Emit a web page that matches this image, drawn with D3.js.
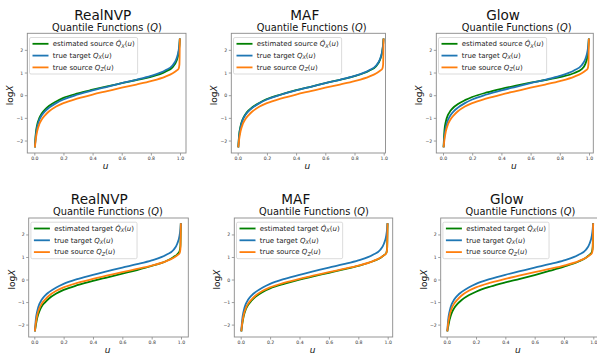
<!DOCTYPE html>
<html>
<head>
<meta charset="utf-8">
<script src="https://cdn.jsdelivr.net/npm/d3@7"></script>
<style>
  body { margin: 0; background: #fff; }
  svg { display: block; font-family: "DejaVu Sans", sans-serif; }
</style>
</head>
<body>
<div id="chart"></div>
<script>
// Quantile levels u
const uLevels = [0.004, 0.01, 0.02, 0.035, 0.05, 0.075, 0.1, 0.15, 0.2, 0.3, 0.4, 0.5, 0.6, 0.7, 0.8, 0.9, 0.95, 0.975, 0.99, 0.996, 0.999];

// True quantile functions (log X)
const trueTarget = [-2.3, -1.8, -1.4, -1.08, -0.9, -0.7, -0.56, -0.35, -0.19, 0.03, 0.21, 0.37, 0.53, 0.68, 0.85, 1.1, 1.32, 1.6, 1.95, 2.25, 2.5];
const trueSource = [-2.3, -1.95, -1.58, -1.27, -1.08, -0.88, -0.72, -0.5, -0.35, -0.14, 0.03, 0.18, 0.33, 0.47, 0.62, 0.82, 0.97, 1.08, 1.16, 1.35, 2.5];

// Estimated source (top row)
const estSourceRealNVP = [-2.3, -1.7, -1.3, -1.0, -0.82, -0.62, -0.48, -0.28, -0.12, 0.08, 0.24, 0.39, 0.53, 0.67, 0.81, 1.04, 1.24, 1.5, 1.85, 2.2, 2.5];
const estSourceMAF = [-2.3, -1.75, -1.36, -1.05, -0.87, -0.67, -0.53, -0.33, -0.17, 0.04, 0.22, 0.37, 0.53, 0.68, 0.84, 1.08, 1.29, 1.57, 1.92, 2.23, 2.5];
const estSourceGlow = [-2.3, -1.55, -1.15, -0.86, -0.7, -0.52, -0.4, -0.22, -0.08, 0.12, 0.28, 0.42, 0.55, 0.67, 0.8, 0.98, 1.15, 1.38, 1.75, 2.15, 2.5];

// Estimated target (bottom row)
const estTargetRealNVP = [-2.3, -2.05, -1.7, -1.4, -1.2, -1.0, -0.84, -0.62, -0.46, -0.24, -0.06, 0.1, 0.26, 0.42, 0.6, 0.82, 1.0, 1.12, 1.25, 1.5, 2.5];
const estTargetMAF = [-2.3, -2.0, -1.63, -1.32, -1.13, -0.93, -0.77, -0.55, -0.39, -0.18, 0.0, 0.15, 0.3, 0.45, 0.61, 0.81, 0.96, 1.08, 1.17, 1.38, 2.5];
const estTargetGlow = [-2.3, -2.1, -1.78, -1.47, -1.28, -1.07, -0.92, -0.7, -0.54, -0.31, -0.13, 0.03, 0.2, 0.38, 0.57, 0.8, 0.97, 1.1, 1.22, 1.45, 2.5];

const models = ['RealNVP', 'MAF', 'Glow'];
const xTicks = [0.0, 0.2, 0.4, 0.6, 0.8, 1.0];
const yTicks = [-2, -1, 0, 1, 2];

// Panel layout (pixels)
const layout = [
    { L: 27.3, R: 186, T: 33.3, B: 153, x0: 34.3, x1: 180, tX: 102.7, tY: 20, sX: 107, sY: 30.5 },
    { L: 231.3, R: 385.5, T: 33.3, B: 153, x0: 237.7, x1: 383.7, tX: 304.8, tY: 20, sX: 311.7, sY: 30.5 },
    { L: 436.3, R: 593.3, T: 33.3, B: 153, x0: 443, x1: 589, tX: 503, tY: 20, sX: 516.7, sY: 30.5 },
    { L: 28.7, R: 188.3, T: 218, B: 337, x0: 34.3, x1: 181, tX: 99.3, tY: 204, sX: 108, sY: 214.5 },
    { L: 234.3, R: 392.7, T: 218, B: 337, x0: 240.7, x1: 387.7, tX: 295.8, tY: 204, sX: 314, sY: 214.5 },
    { L: 440.7, R: 600, T: 218, B: 337, x0: 446.7, x1: 593.3, tX: 506.8, tY: 204, sX: 520.5, sY: 214.5 }
];

const colors = { est: '#008000', target: '#1f77b4', source: '#ff7f0e' };

const panels = [
    { model: models[0], est: estSourceRealNVP, estName: 'source' },
    { model: models[1], est: estSourceMAF, estName: 'source' },
    { model: models[2], est: estSourceGlow, estName: 'source' },
    { model: models[0], est: estTargetRealNVP, estName: 'target' },
    { model: models[1], est: estTargetMAF, estName: 'target' },
    { model: models[2], est: estTargetGlow, estName: 'target' }
];

const svg = d3.select('#chart').append('svg')
    .attr('width', 597)
    .attr('height', 356);

panels.forEach(function (p, i) {
    const lay = layout[i];
    const xScale = d3.scaleLinear().domain([0, 1]).range([lay.x0, lay.x1]);
    const yScale = d3.scaleLinear().domain([-2.55, 2.73]).range([lay.B, lay.T]);

    const g = svg.append('g');

    // Titles
    g.append('text')
        .attr('x', lay.tX).attr('y', lay.tY)
        .attr('text-anchor', 'middle')
        .style('font-size', '13.6px')
        .attr('fill', '#111')
        .text(p.model);

    const sub = g.append('text')
        .attr('x', lay.sX).attr('y', lay.sY)
        .attr('text-anchor', 'middle')
        .style('font-size', '9.8px')
        .attr('fill', '#111');
    sub.append('tspan').text('Quantile Functions (');
    sub.append('tspan').style('font-style', 'italic').text('Q');
    sub.append('tspan').text(')');

    // Axes
    const xAxis = d3.axisBottom(xScale).tickValues(xTicks).tickSize(2.5).tickPadding(1.5)
        .tickFormat(d3.format('.1f'));
    const yAxis = d3.axisLeft(yScale).tickValues(yTicks).tickSize(2.5).tickPadding(1.5)
        .tickFormat(d => d < 0 ? '\u2212' + Math.abs(d) : String(d));

    const xNode = g.append('g')
        .attr('transform', 'translate(0,' + lay.B + ')')
        .call(xAxis);
    const yNode = g.append('g')
        .attr('transform', 'translate(' + lay.L + ',0)')
        .call(yAxis);
    [xNode, yNode].forEach(function (n) {
        n.select('.domain').remove();
        n.selectAll('line').attr('stroke', '#777').attr('stroke-width', 0.7);
        n.selectAll('text').style('font-size', '4.6px').attr('fill', '#333')
            .style('font-family', '"DejaVu Sans", sans-serif');
    });

    // Axis labels
    g.append('text')
        .attr('x', (lay.L + Math.min(lay.R, 597)) / 2 - 1)
        .attr('y', lay.B + 15.5)
        .attr('text-anchor', 'middle')
        .style('font-size', '9px')
        .style('font-style', 'italic')
        .attr('fill', '#111')
        .text('u');

    const ylab = g.append('text')
        .attr('transform', 'translate(' + (lay.L - 14) + ',' + yScale(0) + ') rotate(-90)')
        .attr('text-anchor', 'middle')
        .style('font-size', '9px')
        .attr('fill', '#111');
    ylab.append('tspan').text('log');
    ylab.append('tspan').style('font-style', 'italic').text('X');

    // Lines
    const series = [
        { values: p.est, color: colors.est },
        { values: trueTarget, color: colors.target },
        { values: trueSource, color: colors.source }
    ];
    const lineFunction = d3.line()
        .curve(d3.curveMonotoneX)
        .x(d => xScale(d[0]))
        .y(d => yScale(d[1]));

    series.forEach(function (s) {
        g.append('path')
            .attr('d', lineFunction(uLevels.map((u, k) => [u, s.values[k]])))
            .attr('fill', 'none')
            .attr('stroke', s.color)
            .attr('stroke-width', 1.8);
    });

    // Frame
    g.append('rect')
        .attr('x', lay.L).attr('y', lay.T)
        .attr('width', lay.R - lay.L).attr('height', lay.B - lay.T)
        .attr('fill', 'none')
        .attr('stroke', '#8a8a8a')
        .attr('stroke-width', 0.9);

    // Legend
    const lx = lay.L + 2.2;
    const ly = lay.T + 4.2;
    const legend = g.append('g').attr('transform', 'translate(' + lx + ',' + ly + ')');
    const box = legend.append('rect')
        .attr('width', 103).attr('height', 36.5)
        .attr('rx', 1.5)
        .attr('fill', 'white').attr('fill-opacity', 0.85)
        .attr('stroke', '#cccccc').attr('stroke-width', 0.7);

    const items = [
        { color: colors.est, prefix: 'estimated ' + p.estName + ' ', hat: true, sub: 'X' },
        { color: colors.target, prefix: 'true target ', hat: false, sub: 'X' },
        { color: colors.source, prefix: 'true source ', hat: false, sub: 'Z' }
    ];
    let maxLen = 0;
    items.forEach(function (it, k) {
        const ry = 6.3 + k * 11.8;
        legend.append('line')
            .attr('x1', 3).attr('x2', 19)
            .attr('y1', ry).attr('y2', ry)
            .attr('stroke', it.color).attr('stroke-width', 1.8);
        const t = legend.append('text')
            .attr('x', 23.3).attr('y', ry + 2.4)
            .style('font-size', '7px')
            .attr('fill', '#222');
        t.append('tspan').text(it.prefix);
        t.append('tspan').style('font-style', 'italic').text(it.hat ? 'Q\u0302' : 'Q');
        t.append('tspan').attr('dy', 1.4).style('font-size', '5px').style('font-style', 'italic').text(it.sub);
        t.append('tspan').attr('dy', -1.4).text('(');
        t.append('tspan').style('font-style', 'italic').text('u');
        t.append('tspan').text(')');
        maxLen = Math.max(maxLen, t.node().getComputedTextLength());
    });
    box.attr('width', Math.max(80, 23.3 + maxLen + 3));
});
</script>
</body>
</html>
